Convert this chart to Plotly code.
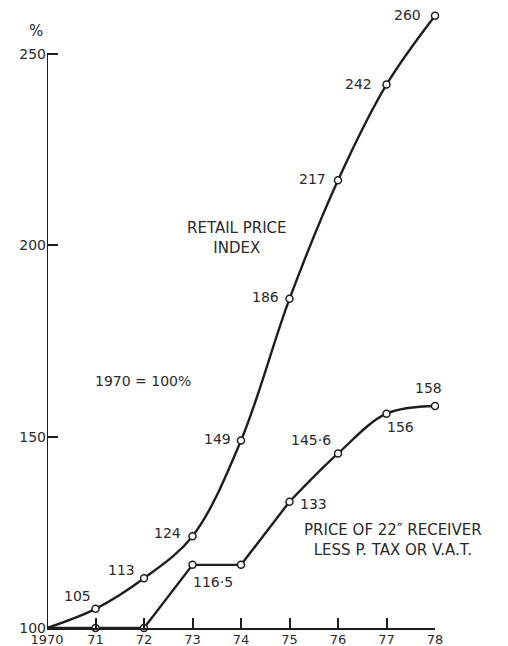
import plotly.graph_objects as go

years = [1970, 1971, 1972, 1973, 1974, 1975, 1976, 1977, 1978]
rpi = [100, 105, 113, 124, 149, 186, 217, 242, 260]
receiver = [100, 100, 100, 116.5, 116.5, 133, 145.6, 156, 158]
x_tick_vals = [1970, 1971, 1972, 1973, 1974, 1975, 1976, 1977, 1978]
x_tick_text = ["1970", "71", "72", "73", "74", "75", "76", "77", "78"]
y_tick_vals = [100, 150, 200, 250]
y_tick_text = ["100", "150", "200", "250"]

rpi_labels = ["105", "113", "124", "149", "186", "217", "242", "260"]
rec_labels = ["116·5", "133", "145·6", "156", "158"]

INK = "#1e1e1e"
TXT = "#2a2a2a"
FONT = "DejaVu Sans"

fig = go.Figure()

# Retail price index (smooth curve)
fig.add_trace(go.Scatter(x=years, y=rpi, mode="lines",
                         line=dict(color=INK, width=2.4, shape="spline", smoothing=1.0),
                         cliponaxis=False, hoverinfo="skip"))
# Receiver price: straight part then smooth part
fig.add_trace(go.Scatter(x=years[:6], y=receiver[:6], mode="lines",
                         line=dict(color=INK, width=2.4),
                         cliponaxis=False, hoverinfo="skip"))
fig.add_trace(go.Scatter(x=years[5:], y=receiver[5:], mode="lines",
                         line=dict(color=INK, width=2.4, shape="spline", smoothing=1.0),
                         cliponaxis=False, hoverinfo="skip"))
# open circle markers
for ys in (rpi, receiver):
    fig.add_trace(go.Scatter(x=years[1:], y=ys[1:], mode="markers",
                             marker=dict(symbol="circle", size=7, color="white",
                                         line=dict(color=INK, width=1.5)),
                             cliponaxis=False, hoverinfo="skip"))

# data labels for RPI (left of points)
rpi_shift = [(-3, 13), (-7, 8), (-10, 3), (-8, 1), (-9, 2), (-10, 1), (-13, 1), (-12, 1)]
for xv, yv, t, (dx, dy) in zip(years[1:], rpi[1:], rpi_labels, rpi_shift):
    fig.add_annotation(x=xv, y=yv, text=t, showarrow=False, xanchor="right", yanchor="middle",
                       xshift=dx, yshift=dy, font=dict(family=FONT, size=14, color=TXT))

# data labels for receiver
rec_idx = [3, 5, 6, 7, 8]
rec_pos = [("center", 20, -17), ("left", 8, -2), ("right", -5, 13), ("center", 14, -13), ("center", -7, 18)]
for i, t, (xa, dx, dy) in zip(rec_idx, rec_labels, rec_pos):
    fig.add_annotation(x=years[i], y=receiver[i], text=t, showarrow=False, xanchor=xa, yanchor="middle",
                       xshift=dx, yshift=dy, font=dict(family=FONT, size=14, color=TXT))

# text notes
fig.add_annotation(x=1973.92, y=202, text="RETAIL PRICE<br>INDEX", showarrow=False,
                   font=dict(family=FONT, size=15, color=TXT), align="center")
fig.add_annotation(x=1971.98, y=164.5, text="1970 = 100%", showarrow=False,
                   font=dict(family=FONT, size=14, color=TXT))
fig.add_annotation(x=1977.13, y=123, text="PRICE OF 22\u2033 RECEIVER<br>LESS P. TAX OR V.A.T.",
                   showarrow=False, font=dict(family=FONT, size=15, color=TXT), align="center")
fig.add_annotation(xref="paper", x=-0.052, y=256, text="%", showarrow=False,
                   font=dict(family=FONT, size=15, color=TXT))

# y axis line stopping at 250
fig.add_shape(type="line", xref="x", yref="y", x0=1970, x1=1970, y0=100, y1=250,
              line=dict(color=INK, width=2))

# page body has an 8px default margin, so the figure is sized to fit inside the window
fig.update_layout(
    width=500, height=638,
    margin=dict(l=39, r=73, t=0, b=18, autoexpand=False),
    paper_bgcolor="white", plot_bgcolor="white",
    showlegend=False,
    font=dict(family=FONT, size=13, color=TXT),
)
fig.update_xaxes(range=[1970, 1978], tickvals=x_tick_vals, ticktext=x_tick_text,
                 showgrid=False, zeroline=False, showline=True, linecolor=INK, linewidth=2,
                 ticks="inside", ticklen=10, tickcolor=INK, tickwidth=1.5, automargin=False,
                 ticklabelstandoff=-2,
                 tickfont=dict(family=FONT, size=13, color=TXT))
fig.update_yaxes(range=[100, 262], tickvals=y_tick_vals, ticktext=y_tick_text,
                 showgrid=False, zeroline=False, showline=False, automargin=False,
                 ticks="inside", ticklen=11, tickcolor=INK, tickwidth=1.5,
                 tickfont=dict(family=FONT, size=14, color=TXT))

fig.write_html("out.html")
